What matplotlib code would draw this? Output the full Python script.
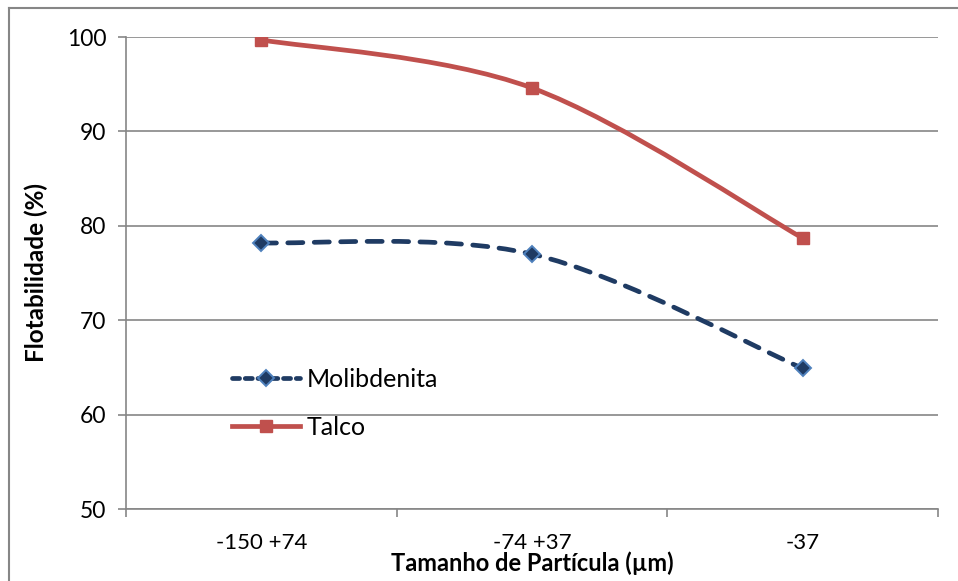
"""Flotabilidade de molibdenita e talco por faixa de tamanho de partícula."""

import matplotlib
matplotlib.use("Agg")
import matplotlib.pyplot as plt
from matplotlib.lines import Line2D
from matplotlib.patches import PathPatch
from matplotlib.path import Path
import numpy as np

CATEGORIES = ["-150 +74", "-74 +37", "-37"]
MOLIBDENITA = [78.2, 77.0, 64.9]
TALCO = [99.7, 94.6, 78.7]

RED = "#C0504D"
NAVY = "#1F3B63"
BLUE_EDGE = "#4F81BD"
GRID = "#868686"
FONT = "Lato"


def smooth_path(ax, xs, ys):
    """Excel-style smoothed line: Catmull-Rom Bezier built in pixel space."""
    pts = ax.transData.transform(np.column_stack([xs, ys]))
    n = len(pts)
    verts = [pts[0]]
    codes = [Path.MOVETO]
    for i in range(n - 1):
        p0 = pts[max(i - 1, 0)]
        p1 = pts[i]
        p2 = pts[i + 1]
        p3 = pts[min(i + 2, n - 1)]
        c1 = p1 + (p2 - p0) / 6.0
        c2 = p2 - (p3 - p1) / 6.0
        verts += [c1, c2, p2]
        codes += [Path.CURVE4] * 3
    data_verts = ax.transData.inverted().transform(np.array(verts))
    return Path(data_verts, codes)


fig = plt.figure(figsize=(9.58, 5.81), dpi=100)
ax = fig.add_axes([126 / 958, 1 - 509 / 581, (938 - 126) / 958, (509 - 37) / 581])

x = np.arange(len(CATEGORIES))
ax.set_xlim(-0.5, len(CATEGORIES) - 0.5)
ax.set_ylim(50, 100)

# gridlines and axes in Excel grey
ax.set_yticks(np.arange(50, 101, 10))
ax.yaxis.grid(True, color=GRID, lw=1.2)
ax.set_axisbelow(True)
for side in ("top", "right"):
    ax.spines[side].set_visible(False)
for side in ("left", "bottom"):
    ax.spines[side].set_color(GRID)
    ax.spines[side].set_linewidth(1.2)

ax.set_xticks(np.arange(-0.5, len(CATEGORIES)), labels=[])
ax.set_xticks(x, labels=CATEGORIES, minor=True)
ax.tick_params(axis="x", which="major", length=6, color=GRID, width=1.2)
ax.tick_params(axis="x", which="minor", length=0, pad=17, labelsize=16)
ax.tick_params(axis="y", length=6, color=GRID, width=1.2, labelsize=16.5, pad=8)
for lab in ax.get_xticklabels(minor=True) + ax.get_yticklabels():
    lab.set_fontfamily(FONT)

# smoothed series
ax.add_patch(PathPatch(smooth_path(ax, x, TALCO), fill=False, edgecolor=RED,
                       lw=3.4, capstyle="round", zorder=3))
mol = PathPatch(smooth_path(ax, x, MOLIBDENITA), fill=False, edgecolor=NAVY,
                lw=3.4, linestyle=(0, (3.2, 2.4)), capstyle="round", zorder=3)
ax.add_patch(mol)
ax.plot(x, TALCO, ls="none", marker="s", ms=8.5, color=RED, mec=RED, zorder=4)
ax.plot(x, MOLIBDENITA, ls="none", marker="D", ms=8, color=NAVY,
        mec=BLUE_EDGE, mew=1.4, zorder=4)

handles = [
    Line2D([], [], color=NAVY, lw=3.4, ls=(0, (1.5, 1.2)), dash_capstyle="round",
           marker="D", ms=8, mfc=NAVY, mec=BLUE_EDGE, mew=1.4),
    Line2D([], [], color=RED, lw=3.4, marker="s", ms=8.5, mfc=RED, mec=RED),
]
leg = ax.legend(handles, ["Molibdenita", "Talco"], loc="upper left",
                bbox_to_anchor=((222 - 126) / 812, (509 - 358) / 472),
                frameon=False, handlelength=2.7, handletextpad=0.3,
                labelspacing=1.0, borderaxespad=0,
                prop={"family": FONT, "size": 18})

ax.set_xlabel("Tamanho de Partícula (µm)", fontfamily=FONT, fontsize=17,
              fontweight="bold", labelpad=-1)
ax.set_ylabel("Flotabilidade (%)", fontfamily=FONT, fontsize=17.5,
              fontweight="bold", labelpad=14)

# outer chart frame
fig.add_artist(Line2D([9 / 958, 9 / 958], [0, 1 - 8 / 581], color=GRID, lw=1.5,
                      transform=fig.transFigure))
fig.add_artist(Line2D([9 / 958, 1], [1 - 8 / 581, 1 - 8 / 581], color=GRID, lw=1.5,
                      transform=fig.transFigure))

fig.savefig("out.png", dpi=100)
